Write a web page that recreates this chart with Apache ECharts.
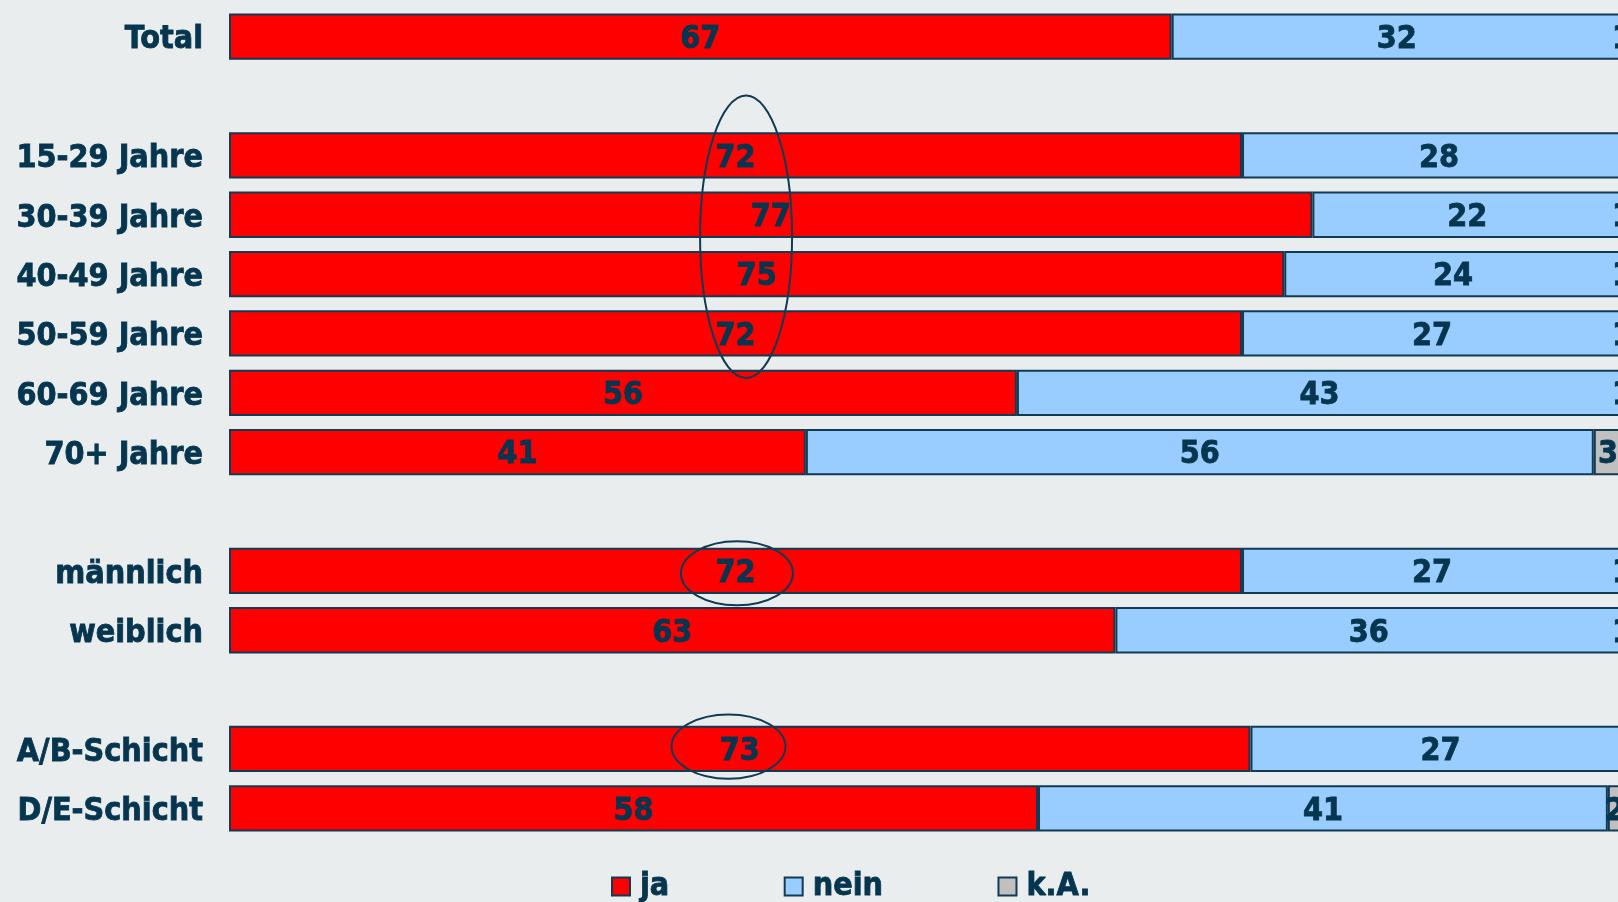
<!DOCTYPE html>
<html>
<head>
<meta charset="utf-8">
<script src="https://cdn.jsdelivr.net/npm/echarts@6/dist/echarts.min.js"></script>
<style>
html,body{margin:0;padding:0;background:#E9EDEE;overflow:hidden;}
#chart{width:1618px;height:902px;}
</style>
</head>
<body>
<div id="chart"></div>
<script>
const categories = ['Total', ' ', '15-29 Jahre', '30-39 Jahre', '40-49 Jahre', '50-59 Jahre', '60-69 Jahre', '70+ Jahre', '  ', 'männlich', 'weiblich', '   ', 'A/B-Schicht', 'D/E-Schicht'];
const ja   = [67, null, 72, 77, 75, 72, 56, 41, null, 72, 63, null, 72.6, 57.5];
const nein = [32, null, 28, 22, 24, 27, 43, 56, null, 27, 36, null, 27, 40.5];
const ka   = [1, null, 0, 1, 1, 1, 1, 3, null, 1, 1, null, 1, 2];
const seriesNames = ['ja', 'nein', 'k.A.'];
// highlight ellipses: [centre value, centre category index, radius in value units, radius in categories]
const ellipses = [[36.75, 3.37, 3.27, 2.38], [36.1, 9.04, 3.98, 0.54], [35.5, 11.96, 4.05, 0.54]];

const FONT = '"DejaVu Sans Condensed", "DejaVu Sans", sans-serif';
const TXT = '#06354F';
const BORDER = '#113B53';

const chart = echarts.init(document.getElementById('chart'));

function mk(name, data, color, labelOffset) {
  return {
    name: name, type: 'bar', stack: 'all', data: data,
    barCategoryGap: '22%',
    itemStyle: { color: color, borderColor: BORDER, borderWidth: 2 },
    label: {
      show: true, position: 'inside', offset: labelOffset || [0, 3],
      color: TXT, fontFamily: FONT, fontWeight: 'bold', fontSize: 32,
      textBorderColor: TXT, textBorderWidth: 0.8,
      formatter: p => (p.value ? String(Math.round(p.value)) : '')
    },
    emphasis: { disabled: true },
    animation: false
  };
}

const labelStyle = {
  color: TXT, fontFamily: FONT, fontWeight: 'bold', fontSize: 32,
  textBorderColor: TXT, textBorderWidth: 0.8, padding: [7, 0, 0, 0]
};

chart.setOption({
  backgroundColor: '#E9EDEE',
  animation: false,
  grid: { left: 229, top: 7, width: 1407, height: 831, outerBoundsMode: 'none', containLabel: false },
  xAxis: { type: 'value', min: 0, max: 100, show: false },
  yAxis: {
    type: 'category', data: categories, inverse: true,
    axisLine: { show: false }, axisTick: { show: false }, splitLine: { show: false },
    axisLabel: {
      margin: 26, color: TXT, fontFamily: FONT, fontWeight: 'bold', fontSize: 32,
      formatter: v => (v.trim() ? '{c|' + v + '}' : ''),
      rich: { c: labelStyle }
    }
  },
  legend: {
    left: 606, top: 865, itemWidth: 18, itemHeight: 18, itemGap: 114, icon: 'rect',
    textStyle: { color: TXT, fontFamily: FONT, fontWeight: 'bold', fontSize: 32, padding: [0, 0, 0, 5],
      textBorderColor: TXT, textBorderWidth: 0.8 },
    data: seriesNames
  },
  series: [
    mk(seriesNames[0], ja, '#FF0000'),
    mk(seriesNames[1], nein, '#99CCFF'),
    mk(seriesNames[2], ka, '#C0C0C0', [-7, 3])
  ]
});

function drawEllipses() {
  const p00 = chart.convertToPixel({ gridIndex: 0 }, [0, 0]);
  const p11 = chart.convertToPixel({ gridIndex: 0 }, [100, 1]);
  const sx = (p11[0] - p00[0]) / 100;
  const sy = p11[1] - p00[1];
  const els = ellipses.map(e => ({
    type: 'ellipse',
    shape: { cx: p00[0] + e[0] * sx, cy: p00[1] + e[1] * sy, rx: e[2] * sx, ry: e[3] * sy },
    style: { fill: 'none', stroke: BORDER, lineWidth: 2 },
    z: 100
  }));
  chart.setOption({ graphic: els });
}
drawEllipses();
</script>
</body>
</html>
